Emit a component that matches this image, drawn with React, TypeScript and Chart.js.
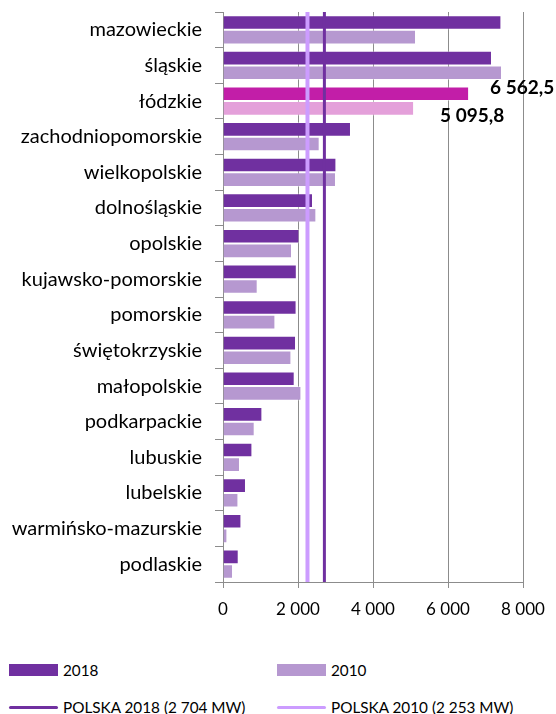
import React, { useEffect, useRef } from "react";
import { Chart, registerables } from "chart.js";

Chart.register(...registerables);

const categories = [
  "mazowieckie",
  "śląskie",
  "łódzkie",
  "zachodniopomorskie",
  "wielkopolskie",
  "dolnośląskie",
  "opolskie",
  "kujawsko-pomorskie",
  "pomorskie",
  "świętokrzyskie",
  "małopolskie",
  "podkarpackie",
  "lubuskie",
  "lubelskie",
  "warmińsko-mazurskie",
  "podlaskie",
];

const values2018 = [7424, 7173, 6562.5, 3413, 3024, 2400, 2037, 1968, 1962, 1947, 1912, 1050, 784, 613, 491, 419];
const values2010 = [5147, 7440, 5095.8, 2578, 3013, 2489, 1840, 925, 1397, 1824, 2091, 845, 453, 411, 117, 267];

const polska2018 = 2704;
const polska2010 = 2253;

const xTicks = [0, 2000, 4000, 6000, 8000];

const highlightCategory = "łódzkie";

const seriesLabels = ["2018", "2010"];
const lineLabels = ["POLSKA 2018 (2 704 MW)", "POLSKA 2010 (2 253 MW)"];

const COLOR_2018 = "#7030A0";
const COLOR_2010 = "#B698D0";
const COLOR_HL_2018 = "#C21EA8";
const COLOR_HL_2010 = "#E4A0DA";
const COLOR_LINE_2018 = "#7030A0";
const COLOR_LINE_2010 = "#CC9CFF";
const BAR_EDGE = "rgba(255,255,255,0.4)";
const GRID = "#8C8C8C";
const FONT = "Lato, 'Open Sans', sans-serif";

function fmtThousands(v: number, decimals = 0): string {
  const fixed = v.toFixed(decimals);
  const [intPart, dec] = fixed.split(".");
  const withSpaces = intPart.replace(/\B(?=(\d{3})+(?!\d))/g, " ");
  return dec !== undefined ? `${withSpaces},${dec}` : withSpaces;
}

const overlayPlugin = {
  id: "overlay",
  afterDatasetsDraw(chart: any) {
    const { ctx, chartArea, scales } = chart;
    const xs = scales.x;
    ctx.save();
    const lines: [number, string, number][] = [
      [polska2010, COLOR_LINE_2010, 4],
      [polska2018, COLOR_LINE_2018, 3],
    ];
    lines.forEach(([v, c, w]) => {
      const px = xs.getPixelForValue(v);
      ctx.beginPath();
      ctx.strokeStyle = c;
      ctx.lineWidth = w;
      ctx.moveTo(px, chartArea.top);
      ctx.lineTo(px, chartArea.bottom);
      ctx.stroke();
    });

    const idx = categories.indexOf(highlightCategory);
    const offsets = [
      [21, -6],
      [26, 8],
    ];
    ctx.font = `bold 19px ${FONT}`;
    ctx.fillStyle = "#000";
    ctx.textAlign = "left";
    ctx.textBaseline = "middle";
    chart.data.datasets.forEach((ds: any, di: number) => {
      const meta = chart.getDatasetMeta(di);
      const el = meta.data[idx];
      if (!el) return;
      const val = ds.data[idx];
      ctx.fillText(fmtThousands(val, 1), el.x + offsets[di][0], el.y + offsets[di][1]);
    });
    ctx.restore();
  },
};

function ChartCanvas() {
  const ref = useRef<HTMLCanvasElement | null>(null);
  useEffect(() => {
    if (!ref.current) return;
    const hl = categories.indexOf(highlightCategory);
    const chart = new Chart(ref.current, {
      type: "bar",
      data: {
        labels: categories,
        datasets: [
          {
            label: seriesLabels[0],
            data: values2018,
            backgroundColor: categories.map((_, i) => (i === hl ? COLOR_HL_2018 : COLOR_2018)),
            borderColor: BAR_EDGE,
            borderWidth: 1,
            borderSkipped: "start",
            categoryPercentage: 0.82,
            barPercentage: 1.0,
          },
          {
            label: seriesLabels[1],
            data: values2010,
            backgroundColor: categories.map((_, i) => (i === hl ? COLOR_HL_2010 : COLOR_2010)),
            borderColor: BAR_EDGE,
            borderWidth: 1,
            borderSkipped: "start",
            categoryPercentage: 0.82,
            barPercentage: 1.0,
          },
        ],
      },
      options: {
        indexAxis: "y",
        responsive: false,
        animation: false,
        layout: { padding: { top: 12, right: 33, bottom: 0, left: 0 } },
        plugins: {
          legend: { display: false },
          tooltip: { enabled: false },
        },
        scales: {
          x: {
            min: xTicks[0],
            max: xTicks[xTicks.length - 1],
            afterFit: (s: any) => {
              s.height = 58;
              s.paddingLeft = 0;
              s.paddingRight = 0;
            },
            afterBuildTicks: (s: any) => {
              s.ticks = xTicks.map((v) => ({ value: v }));
            },
            ticks: {
              callback: (v: any) => fmtThousands(Number(v)),
              font: { family: FONT, size: 17 },
              color: "#000",
              padding: 11,
              maxRotation: 0,
            },
            grid: { color: GRID, lineWidth: 1, tickLength: 6 },
            border: { display: true, color: GRID },
          },
          y: {
            afterFit: (s: any) => {
              s.width = 223;
              s.paddingTop = 0;
              s.paddingBottom = 0;
            },
            ticks: {
              font: { family: FONT, size: 20 },
              color: "#000",
              padding: 13,
              autoSkip: false,
            },
            grid: { offset: true, drawOnChartArea: false, drawTicks: true, tickLength: 8, color: GRID },
            border: { display: true, color: GRID },
          },
        },
      },
      plugins: [overlayPlugin],
    } as any);
    return () => chart.destroy();
  }, []);
  return <canvas ref={ref} width={556} height={640} style={{ display: "block" }} />;
}

function LegendItem({ left, top, kind, color, text }: { left: number; top: number; kind: "box" | "line"; color: string; text: string }) {
  return (
    <div
      style={{
        position: "absolute",
        left,
        top,
        height: 20,
        display: "flex",
        alignItems: "center",
        fontFamily: FONT,
        fontSize: 15.3,
        color: "#000",
        whiteSpace: "nowrap",
      }}
    >
      <span
        style={{
          display: "inline-block",
          width: 49,
          height: kind === "box" ? 12 : 3,
          borderRadius: kind === "box" ? 0 : 2,
          background: color,
          marginRight: 5,
        }}
      />
      <span>{text}</span>
    </div>
  );
}

export default function App() {
  return (
    <div style={{ position: "absolute", left: 0, top: 0, width: 556, height: 714, background: "#fff", overflow: "hidden" }}>
      <ChartCanvas />
      <LegendItem left={9} top={660} kind="box" color={COLOR_2018} text={seriesLabels[0]} />
      <LegendItem left={277} top={660} kind="box" color={COLOR_2010} text={seriesLabels[1]} />
      <LegendItem left={9} top={697} kind="line" color={COLOR_LINE_2018} text={lineLabels[0]} />
      <LegendItem left={277} top={697} kind="line" color={COLOR_LINE_2010} text={lineLabels[1]} />
    </div>
  );
}
